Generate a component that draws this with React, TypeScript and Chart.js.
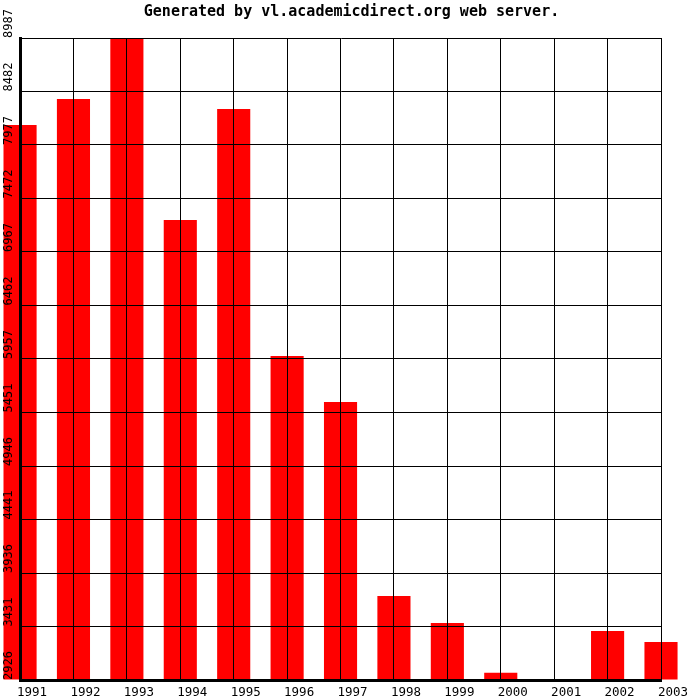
import React, { useEffect, useRef } from "react";
import { Chart, registerables } from "chart.js";

Chart.register(...registerables);

const years = ["1991", "1992", "1993", "1994", "1995", "1996", "1997", "1998", "1999", "2000", "2001", "2002", "2003"];
const values = [8166, 8411, 8987, 7269, 8317, 5985, 5551, 3719, 3464, 2995, 2926, 3389, 3285];
const yTickLabels = ["2926", "3431", "3936", "4441", "4946", "5451", "5957", "6462", "6967", "7472", "7977", "8482", "8987"];
const titleText = "Generated by vl.academicdirect.org web server.";

const MONO = "'DejaVu Sans Mono', 'Liberation Mono', monospace";

export default function App() {
  const ref = useRef<HTMLCanvasElement | null>(null);

  useEffect(() => {
    if (!ref.current) return;
    const yMin = Number(yTickLabels[0]);
    const yMax = Number(yTickLabels[yTickLabels.length - 1]);
    const chart = new Chart(ref.current, {
      type: "bar",
      data: {
        labels: years,
        datasets: [
          {
            data: values,
            base: yMin,
            backgroundColor: "#ff0000",
            borderWidth: 0,
            barPercentage: 0.62,
            categoryPercentage: 1,
            clip: false as any,
          } as any,
        ],
      },
      options: {
        responsive: false,
        animation: false,
        layout: { padding: { left: 3, right: 0, top: 0, bottom: 0 } },
        plugins: {
          legend: { display: false },
          tooltip: { enabled: false },
          title: {
            display: true,
            text: titleText,
            color: "#000",
            font: { family: MONO, size: 15, weight: "bold" },
            padding: { top: 3, bottom: 17 },
          },
        },
        scales: {
          x: {
            type: "category",
            offset: false,
            grid: { color: "#000", lineWidth: 1, offset: false, drawTicks: false, z: 1 },
            border: { color: "#000", width: 3, z: 2 },
            afterFit: (scale: any) => {
              scale.height = 20;
            },
            ticks: {
              color: "#000",
              font: { family: MONO, size: 12.5 },
              labelOffset: 12,
              padding: 5,
              maxRotation: 0,
              minRotation: 0,
              autoSkip: false,
              z: 2,
            },
          },
          y: {
            type: "linear",
            min: yMin,
            max: yMax,
            grid: { color: "#000", lineWidth: 1, drawTicks: false, z: 1 },
            border: { color: "#000", width: 3, z: 2 },
            afterBuildTicks: (scale: any) => {
              scale.ticks = yTickLabels.map((l) => ({ value: Number(l) }));
            },
            afterFit: (scale: any) => {
              scale.width = 17;
            },
            ticks: {
              color: "#000",
              font: { family: MONO, size: 12 },
              minRotation: 90,
              maxRotation: 90,
              crossAlign: "far",
              align: "start",
              padding: 2,
              z: 2,
              callback: (_v: any, i: number) => yTickLabels[i],
            },
          },
          yRight: {
            type: "linear",
            position: "right",
            min: yMin,
            max: yMax,
            grid: { display: false },
            border: { display: false },
            ticks: { display: false },
            afterFit: (scale: any) => {
              scale.width = 39;
            },
          },
        },
      },
    });
    return () => chart.destroy();
  }, []);

  return (
    <div style={{ position: "absolute", left: 0, top: 0, width: 700, height: 700, background: "#fff" }}>
      <canvas ref={ref} width={700} height={700} />
    </div>
  );
}
